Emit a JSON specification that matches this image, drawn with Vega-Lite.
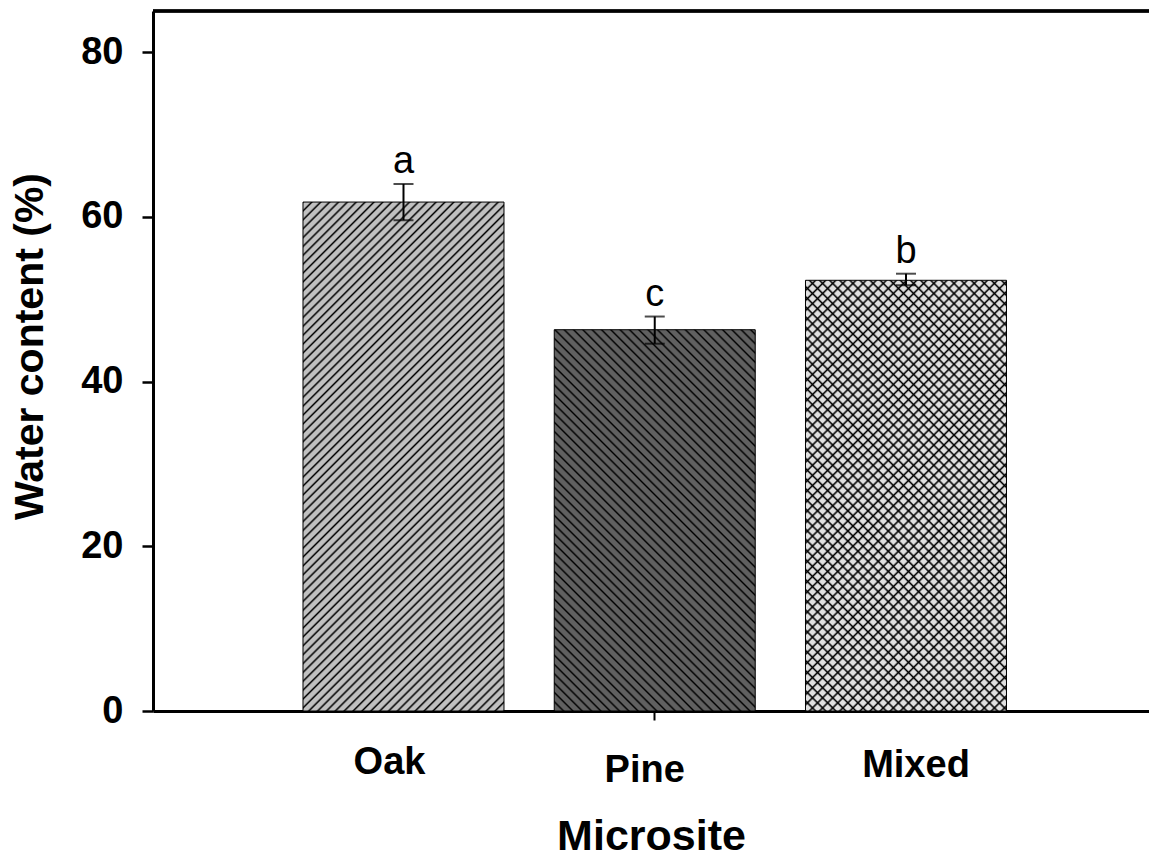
{
"$schema": "https://vega.github.io/schema/vega-lite/v6.json",
"width": 996,
"height": 700,
"autosize": "none",
"padding": {"left": 153, "top": 11, "right": 0, "bottom": 147},
"background": "white",
"config": {"view": {"stroke": null}, "font": "Liberation Sans", "axis": {"grid": false, "domainColor": "black", "tickColor": "black", "labelColor": "black", "titleColor": "black"}},
"params": [
{"name": "hatchA", "value": [
{"offset":0,"color":"#000"},{"offset":0.003,"color":"transparent"},{"offset":0.0095,"color":"transparent"},
{"offset":0.0125,"color":"#000"},{"offset":0.0155,"color":"transparent"},{"offset":0.022,"color":"transparent"},
{"offset":0.025,"color":"#000"},{"offset":0.028,"color":"transparent"},{"offset":0.0345,"color":"transparent"},
{"offset":0.0375,"color":"#000"},{"offset":0.0405,"color":"transparent"},{"offset":0.047,"color":"transparent"},
{"offset":0.05,"color":"#000"},{"offset":0.053,"color":"transparent"},{"offset":0.0595,"color":"transparent"},
{"offset":0.0625,"color":"#000"},{"offset":0.0655,"color":"transparent"},{"offset":0.072,"color":"transparent"},
{"offset":0.075,"color":"#000"},{"offset":0.078,"color":"transparent"},{"offset":0.0845,"color":"transparent"},
{"offset":0.0875,"color":"#000"},{"offset":0.0905,"color":"transparent"},{"offset":0.097,"color":"transparent"},
{"offset":0.1,"color":"#000"},{"offset":0.103,"color":"transparent"},{"offset":0.1095,"color":"transparent"},
{"offset":0.1125,"color":"#000"},{"offset":0.1155,"color":"transparent"},{"offset":0.122,"color":"transparent"},
{"offset":0.125,"color":"#000"},{"offset":0.128,"color":"transparent"},{"offset":0.1345,"color":"transparent"},
{"offset":0.1375,"color":"#000"},{"offset":0.1405,"color":"transparent"},{"offset":0.147,"color":"transparent"},
{"offset":0.15,"color":"#000"},{"offset":0.153,"color":"transparent"},{"offset":0.1595,"color":"transparent"},
{"offset":0.1625,"color":"#000"},{"offset":0.1655,"color":"transparent"},{"offset":0.172,"color":"transparent"},
{"offset":0.175,"color":"#000"},{"offset":0.178,"color":"transparent"},{"offset":0.1845,"color":"transparent"},
{"offset":0.1875,"color":"#000"},{"offset":0.1905,"color":"transparent"},{"offset":0.197,"color":"transparent"},
{"offset":0.2,"color":"#000"},{"offset":0.203,"color":"transparent"},{"offset":0.2095,"color":"transparent"},
{"offset":0.2125,"color":"#000"},{"offset":0.2155,"color":"transparent"},{"offset":0.222,"color":"transparent"},
{"offset":0.225,"color":"#000"},{"offset":0.228,"color":"transparent"},{"offset":0.2345,"color":"transparent"},
{"offset":0.2375,"color":"#000"},{"offset":0.2405,"color":"transparent"},{"offset":0.247,"color":"transparent"},
{"offset":0.25,"color":"#000"},{"offset":0.253,"color":"transparent"},{"offset":0.2595,"color":"transparent"},
{"offset":0.2625,"color":"#000"},{"offset":0.2655,"color":"transparent"},{"offset":0.272,"color":"transparent"},
{"offset":0.275,"color":"#000"},{"offset":0.278,"color":"transparent"},{"offset":0.2845,"color":"transparent"},
{"offset":0.2875,"color":"#000"},{"offset":0.2905,"color":"transparent"},{"offset":0.297,"color":"transparent"},
{"offset":0.3,"color":"#000"},{"offset":0.303,"color":"transparent"},{"offset":0.3095,"color":"transparent"},
{"offset":0.3125,"color":"#000"},{"offset":0.3155,"color":"transparent"},{"offset":0.322,"color":"transparent"},
{"offset":0.325,"color":"#000"},{"offset":0.328,"color":"transparent"},{"offset":0.3345,"color":"transparent"},
{"offset":0.3375,"color":"#000"},{"offset":0.3405,"color":"transparent"},{"offset":0.347,"color":"transparent"},
{"offset":0.35,"color":"#000"},{"offset":0.353,"color":"transparent"},{"offset":0.3595,"color":"transparent"},
{"offset":0.3625,"color":"#000"},{"offset":0.3655,"color":"transparent"},{"offset":0.372,"color":"transparent"},
{"offset":0.375,"color":"#000"},{"offset":0.378,"color":"transparent"},{"offset":0.3845,"color":"transparent"},
{"offset":0.3875,"color":"#000"},{"offset":0.3905,"color":"transparent"},{"offset":0.397,"color":"transparent"},
{"offset":0.4,"color":"#000"},{"offset":0.403,"color":"transparent"},{"offset":0.4095,"color":"transparent"},
{"offset":0.4125,"color":"#000"},{"offset":0.4155,"color":"transparent"},{"offset":0.422,"color":"transparent"},
{"offset":0.425,"color":"#000"},{"offset":0.428,"color":"transparent"},{"offset":0.4345,"color":"transparent"},
{"offset":0.4375,"color":"#000"},{"offset":0.4405,"color":"transparent"},{"offset":0.447,"color":"transparent"},
{"offset":0.45,"color":"#000"},{"offset":0.453,"color":"transparent"},{"offset":0.4595,"color":"transparent"},
{"offset":0.4625,"color":"#000"},{"offset":0.4655,"color":"transparent"},{"offset":0.472,"color":"transparent"},
{"offset":0.475,"color":"#000"},{"offset":0.478,"color":"transparent"},{"offset":0.4845,"color":"transparent"},
{"offset":0.4875,"color":"#000"},{"offset":0.4905,"color":"transparent"},{"offset":0.497,"color":"transparent"},
{"offset":0.5,"color":"#000"},{"offset":0.503,"color":"transparent"},{"offset":0.5095,"color":"transparent"},
{"offset":0.5125,"color":"#000"},{"offset":0.5155,"color":"transparent"},{"offset":0.522,"color":"transparent"},
{"offset":0.525,"color":"#000"},{"offset":0.528,"color":"transparent"},{"offset":0.5345,"color":"transparent"},
{"offset":0.5375,"color":"#000"},{"offset":0.5405,"color":"transparent"},{"offset":0.547,"color":"transparent"},
{"offset":0.55,"color":"#000"},{"offset":0.553,"color":"transparent"},{"offset":0.5595,"color":"transparent"},
{"offset":0.5625,"color":"#000"},{"offset":0.5655,"color":"transparent"},{"offset":0.572,"color":"transparent"},
{"offset":0.575,"color":"#000"},{"offset":0.578,"color":"transparent"},{"offset":0.5845,"color":"transparent"},
{"offset":0.5875,"color":"#000"},{"offset":0.5905,"color":"transparent"},{"offset":0.597,"color":"transparent"},
{"offset":0.6,"color":"#000"},{"offset":0.603,"color":"transparent"},{"offset":0.6095,"color":"transparent"},
{"offset":0.6125,"color":"#000"},{"offset":0.6155,"color":"transparent"},{"offset":0.622,"color":"transparent"},
{"offset":0.625,"color":"#000"},{"offset":0.628,"color":"transparent"},{"offset":0.6345,"color":"transparent"},
{"offset":0.6375,"color":"#000"},{"offset":0.6405,"color":"transparent"},{"offset":0.647,"color":"transparent"},
{"offset":0.65,"color":"#000"},{"offset":0.653,"color":"transparent"},{"offset":0.6595,"color":"transparent"},
{"offset":0.6625,"color":"#000"},{"offset":0.6655,"color":"transparent"},{"offset":0.672,"color":"transparent"},
{"offset":0.675,"color":"#000"},{"offset":0.678,"color":"transparent"},{"offset":0.6845,"color":"transparent"},
{"offset":0.6875,"color":"#000"},{"offset":0.6905,"color":"transparent"},{"offset":0.697,"color":"transparent"},
{"offset":0.7,"color":"#000"},{"offset":0.703,"color":"transparent"},{"offset":0.7095,"color":"transparent"},
{"offset":0.7125,"color":"#000"},{"offset":0.7155,"color":"transparent"},{"offset":0.722,"color":"transparent"},
{"offset":0.725,"color":"#000"},{"offset":0.728,"color":"transparent"},{"offset":0.7345,"color":"transparent"},
{"offset":0.7375,"color":"#000"},{"offset":0.7405,"color":"transparent"},{"offset":0.747,"color":"transparent"},
{"offset":0.75,"color":"#000"},{"offset":0.753,"color":"transparent"},{"offset":0.7595,"color":"transparent"},
{"offset":0.7625,"color":"#000"},{"offset":0.7655,"color":"transparent"},{"offset":0.772,"color":"transparent"},
{"offset":0.775,"color":"#000"},{"offset":0.778,"color":"transparent"},{"offset":0.7845,"color":"transparent"},
{"offset":0.7875,"color":"#000"},{"offset":0.7905,"color":"transparent"},{"offset":0.797,"color":"transparent"},
{"offset":0.8,"color":"#000"},{"offset":0.803,"color":"transparent"},{"offset":0.8095,"color":"transparent"},
{"offset":0.8125,"color":"#000"},{"offset":0.8155,"color":"transparent"},{"offset":0.822,"color":"transparent"},
{"offset":0.825,"color":"#000"},{"offset":0.828,"color":"transparent"},{"offset":0.8345,"color":"transparent"},
{"offset":0.8375,"color":"#000"},{"offset":0.8405,"color":"transparent"},{"offset":0.847,"color":"transparent"},
{"offset":0.85,"color":"#000"},{"offset":0.853,"color":"transparent"},{"offset":0.8595,"color":"transparent"},
{"offset":0.8625,"color":"#000"},{"offset":0.8655,"color":"transparent"},{"offset":0.872,"color":"transparent"},
{"offset":0.875,"color":"#000"},{"offset":0.878,"color":"transparent"},{"offset":0.8845,"color":"transparent"},
{"offset":0.8875,"color":"#000"},{"offset":0.8905,"color":"transparent"},{"offset":0.897,"color":"transparent"},
{"offset":0.9,"color":"#000"},{"offset":0.903,"color":"transparent"},{"offset":0.9095,"color":"transparent"},
{"offset":0.9125,"color":"#000"},{"offset":0.9155,"color":"transparent"},{"offset":0.922,"color":"transparent"},
{"offset":0.925,"color":"#000"},{"offset":0.928,"color":"transparent"},{"offset":0.9345,"color":"transparent"},
{"offset":0.9375,"color":"#000"},{"offset":0.9405,"color":"transparent"},{"offset":0.947,"color":"transparent"},
{"offset":0.95,"color":"#000"},{"offset":0.953,"color":"transparent"},{"offset":0.9595,"color":"transparent"},
{"offset":0.9625,"color":"#000"},{"offset":0.9655,"color":"transparent"},{"offset":0.972,"color":"transparent"},
{"offset":0.975,"color":"#000"},{"offset":0.978,"color":"transparent"},{"offset":0.9845,"color":"transparent"},
{"offset":0.9875,"color":"#000"},{"offset":0.9905,"color":"transparent"},{"offset":0.997,"color":"transparent"},
{"offset":1,"color":"#000"}
]},
{"name": "hatchB", "value": [
{"offset":0,"color":"#000"},{"offset":0.0035,"color":"transparent"},{"offset":0.0125,"color":"transparent"},
{"offset":0.016,"color":"#000"},{"offset":0.0195,"color":"transparent"},{"offset":0.0285,"color":"transparent"},
{"offset":0.032,"color":"#000"},{"offset":0.0355,"color":"transparent"},{"offset":0.0445,"color":"transparent"},
{"offset":0.048,"color":"#000"},{"offset":0.0515,"color":"transparent"},{"offset":0.0605,"color":"transparent"},
{"offset":0.064,"color":"#000"},{"offset":0.0675,"color":"transparent"},{"offset":0.0765,"color":"transparent"},
{"offset":0.08,"color":"#000"},{"offset":0.0835,"color":"transparent"},{"offset":0.0925,"color":"transparent"},
{"offset":0.096,"color":"#000"},{"offset":0.0995,"color":"transparent"},{"offset":0.1085,"color":"transparent"},
{"offset":0.112,"color":"#000"},{"offset":0.1155,"color":"transparent"},{"offset":0.1245,"color":"transparent"},
{"offset":0.128,"color":"#000"},{"offset":0.1315,"color":"transparent"},{"offset":0.1405,"color":"transparent"},
{"offset":0.144,"color":"#000"},{"offset":0.1475,"color":"transparent"},{"offset":0.1565,"color":"transparent"},
{"offset":0.16,"color":"#000"},{"offset":0.1635,"color":"transparent"},{"offset":0.1725,"color":"transparent"},
{"offset":0.176,"color":"#000"},{"offset":0.1795,"color":"transparent"},{"offset":0.1885,"color":"transparent"},
{"offset":0.192,"color":"#000"},{"offset":0.1955,"color":"transparent"},{"offset":0.2045,"color":"transparent"},
{"offset":0.208,"color":"#000"},{"offset":0.2115,"color":"transparent"},{"offset":0.2205,"color":"transparent"},
{"offset":0.224,"color":"#000"},{"offset":0.2275,"color":"transparent"},{"offset":0.2365,"color":"transparent"},
{"offset":0.24,"color":"#000"},{"offset":0.2435,"color":"transparent"},{"offset":0.2525,"color":"transparent"},
{"offset":0.256,"color":"#000"},{"offset":0.2595,"color":"transparent"},{"offset":0.2685,"color":"transparent"},
{"offset":0.272,"color":"#000"},{"offset":0.2755,"color":"transparent"},{"offset":0.2845,"color":"transparent"},
{"offset":0.288,"color":"#000"},{"offset":0.2915,"color":"transparent"},{"offset":0.3005,"color":"transparent"},
{"offset":0.304,"color":"#000"},{"offset":0.3075,"color":"transparent"},{"offset":0.3165,"color":"transparent"},
{"offset":0.32,"color":"#000"},{"offset":0.3235,"color":"transparent"},{"offset":0.3325,"color":"transparent"},
{"offset":0.336,"color":"#000"},{"offset":0.3395,"color":"transparent"},{"offset":0.3485,"color":"transparent"},
{"offset":0.352,"color":"#000"},{"offset":0.3555,"color":"transparent"},{"offset":0.3645,"color":"transparent"},
{"offset":0.368,"color":"#000"},{"offset":0.3715,"color":"transparent"},{"offset":0.3805,"color":"transparent"},
{"offset":0.384,"color":"#000"},{"offset":0.3875,"color":"transparent"},{"offset":0.3965,"color":"transparent"},
{"offset":0.4,"color":"#000"},{"offset":0.4035,"color":"transparent"},{"offset":0.4125,"color":"transparent"},
{"offset":0.416,"color":"#000"},{"offset":0.4195,"color":"transparent"},{"offset":0.4285,"color":"transparent"},
{"offset":0.432,"color":"#000"},{"offset":0.4355,"color":"transparent"},{"offset":0.4445,"color":"transparent"},
{"offset":0.448,"color":"#000"},{"offset":0.4515,"color":"transparent"},{"offset":0.4605,"color":"transparent"},
{"offset":0.464,"color":"#000"},{"offset":0.4675,"color":"transparent"},{"offset":0.4765,"color":"transparent"},
{"offset":0.48,"color":"#000"},{"offset":0.4835,"color":"transparent"},{"offset":0.4925,"color":"transparent"},
{"offset":0.496,"color":"#000"},{"offset":0.4995,"color":"transparent"},{"offset":0.5085,"color":"transparent"},
{"offset":0.512,"color":"#000"},{"offset":0.5155,"color":"transparent"},{"offset":0.5245,"color":"transparent"},
{"offset":0.528,"color":"#000"},{"offset":0.5315,"color":"transparent"},{"offset":0.5405,"color":"transparent"},
{"offset":0.544,"color":"#000"},{"offset":0.5475,"color":"transparent"},{"offset":0.5565,"color":"transparent"},
{"offset":0.56,"color":"#000"},{"offset":0.5635,"color":"transparent"},{"offset":0.5725,"color":"transparent"},
{"offset":0.576,"color":"#000"},{"offset":0.5795,"color":"transparent"},{"offset":0.5885,"color":"transparent"},
{"offset":0.592,"color":"#000"},{"offset":0.5955,"color":"transparent"},{"offset":0.6045,"color":"transparent"},
{"offset":0.608,"color":"#000"},{"offset":0.6115,"color":"transparent"},{"offset":0.6205,"color":"transparent"},
{"offset":0.624,"color":"#000"},{"offset":0.6275,"color":"transparent"},{"offset":0.6365,"color":"transparent"},
{"offset":0.64,"color":"#000"},{"offset":0.6435,"color":"transparent"},{"offset":0.6525,"color":"transparent"},
{"offset":0.656,"color":"#000"},{"offset":0.6595,"color":"transparent"},{"offset":0.6685,"color":"transparent"},
{"offset":0.672,"color":"#000"},{"offset":0.6755,"color":"transparent"},{"offset":0.6845,"color":"transparent"},
{"offset":0.688,"color":"#000"},{"offset":0.6915,"color":"transparent"},{"offset":0.7005,"color":"transparent"},
{"offset":0.704,"color":"#000"},{"offset":0.7075,"color":"transparent"},{"offset":0.7165,"color":"transparent"},
{"offset":0.72,"color":"#000"},{"offset":0.7235,"color":"transparent"},{"offset":0.7325,"color":"transparent"},
{"offset":0.736,"color":"#000"},{"offset":0.7395,"color":"transparent"},{"offset":0.7485,"color":"transparent"},
{"offset":0.752,"color":"#000"},{"offset":0.7555,"color":"transparent"},{"offset":0.7645,"color":"transparent"},
{"offset":0.768,"color":"#000"},{"offset":0.7715,"color":"transparent"},{"offset":0.7805,"color":"transparent"},
{"offset":0.784,"color":"#000"},{"offset":0.7875,"color":"transparent"},{"offset":0.7965,"color":"transparent"},
{"offset":0.8,"color":"#000"},{"offset":0.8035,"color":"transparent"},{"offset":0.8125,"color":"transparent"},
{"offset":0.816,"color":"#000"},{"offset":0.8195,"color":"transparent"},{"offset":0.8285,"color":"transparent"},
{"offset":0.832,"color":"#000"},{"offset":0.8355,"color":"transparent"},{"offset":0.8445,"color":"transparent"},
{"offset":0.848,"color":"#000"},{"offset":0.8515,"color":"transparent"},{"offset":0.8605,"color":"transparent"},
{"offset":0.864,"color":"#000"},{"offset":0.8675,"color":"transparent"},{"offset":0.8765,"color":"transparent"},
{"offset":0.88,"color":"#000"},{"offset":0.8835,"color":"transparent"},{"offset":0.8925,"color":"transparent"},
{"offset":0.896,"color":"#000"},{"offset":0.8995,"color":"transparent"},{"offset":0.9085,"color":"transparent"},
{"offset":0.912,"color":"#000"},{"offset":0.9155,"color":"transparent"},{"offset":0.9245,"color":"transparent"},
{"offset":0.928,"color":"#000"},{"offset":0.9315,"color":"transparent"},{"offset":0.9405,"color":"transparent"},
{"offset":0.944,"color":"#000"},{"offset":0.9475,"color":"transparent"},{"offset":0.9565,"color":"transparent"},
{"offset":0.96,"color":"#000"},{"offset":0.9635,"color":"transparent"},{"offset":0.9725,"color":"transparent"},
{"offset":0.976,"color":"#000"},{"offset":0.9795,"color":"transparent"},{"offset":0.9885,"color":"transparent"},
{"offset":0.992,"color":"#000"},{"offset":0.9955,"color":"transparent"}
]}
],
"data": {"values": [
{"site": "Oak", "mean": 61.8, "lower": 59.6, "upper": 64.0, "letter": "a"},
{"site": "Pine", "mean": 46.3, "lower": 44.6, "upper": 47.9, "letter": "c"},
{"site": "Mixed", "mean": 52.3, "lower": 51.7, "upper": 53.1, "letter": "b"}
]},
"layer": [
{
"encoding": {
"x": {"field": "site", "type": "nominal", "sort": ["Oak", "Pine", "Mixed"],
"scale": {"paddingInner": 0.2, "paddingOuter": 0.5821, "align": 0.5128},
"axis": {"title": "Microsite", "titleFontSize": 43, "titleFontWeight": "bold", "titlePadding": 26,
"labelFontSize": 38, "labelFontWeight": "bold", "labelAngle": 0, "labelBaseline": "alphabetic", "labelOverlap": false, "labelFlush": false,
"labelOffset": {"condition": [{"test": "datum.value === 'Oak'", "value": -14}, {"test": "datum.value === 'Pine'", "value": -10}], "value": 10},
"labelPadding": {"condition": [{"test": "datum.value === 'Oak'", "value": 53}, {"test": "datum.value === 'Pine'", "value": 61}], "value": 56},
"tickSize": 9, "tickWidth": 2, "tickOpacity": {"condition": {"test": "datum.value === 'Pine'", "value": 1}, "value": 0},
"domainWidth": 3}}
},
"layer": [
{"mark": {"type": "bar", "stroke": "black", "strokeWidth": 1},
"encoding": {
"y": {"field": "mean", "type": "quantitative", "scale": {"domain": [0, 85], "nice": false},
"axis": {"title": "Water content (%)", "titleFontSize": 41, "titleFontWeight": "bold", "titlePadding": 29, "titleY": 335,
"values": [0, 20, 40, 60, 80], "labelFontSize": 38, "labelFontWeight": "bold", "labelPadding": 19,
"tickSize": 11, "tickWidth": 2.5, "domainWidth": 3}},
"fill": {"field": "site", "type": "nominal", "scale": {"domain": ["Oak", "Pine", "Mixed"], "range": ["#c0c0c0", "#606060", "#e0e0e0"]}, "legend": null}
}},
{"transform": [{"filter": "datum.site === 'Oak'"}],
"mark": {"type": "bar", "stroke": null, "fill": {"expr": "{gradient: 'linear', x1: 0, y1: 0, x2: 0.47658, y2: 1.2067, stops: hatchA}"}},
"encoding": {"y": {"field": "mean", "type": "quantitative"}}},
{"transform": [{"filter": "datum.site === 'Pine'"}],
"mark": {"type": "bar", "stroke": null, "fill": {"expr": "{gradient: 'linear', x1: 0, y1: 1, x2: 0.62998, y2: -0.19504, stops: hatchB}"}},
"encoding": {"y": {"field": "mean", "type": "quantitative"}}},
{"transform": [{"filter": "datum.site === 'Mixed'"}],
"mark": {"type": "bar", "stroke": null, "fill": {"expr": "{gradient: 'linear', x1: 0, y1: 0, x2: 0.56205, y2: 1.20439, stops: hatchB}"}},
"encoding": {"y": {"field": "mean", "type": "quantitative"}}},
{"transform": [{"filter": "datum.site === 'Mixed'"}],
"mark": {"type": "bar", "stroke": null, "fill": {"expr": "{gradient: 'linear', x1: 0, y1: 1, x2: 0.56205, y2: -0.20439, stops: hatchB}"}},
"encoding": {"y": {"field": "mean", "type": "quantitative"}}},
{"mark": {"type": "rule", "color": "black", "strokeWidth": 2},
"encoding": {"y": {"field": "lower", "type": "quantitative"}, "y2": {"field": "upper"}}},
{"mark": {"type": "tick", "color": "black", "size": 20, "thickness": 2, "orient": "horizontal"},
"encoding": {"y": {"field": "upper", "type": "quantitative"}}},
{"mark": {"type": "tick", "color": "black", "size": 20, "thickness": 2, "orient": "horizontal"},
"encoding": {"y": {"field": "lower", "type": "quantitative"}}},
{"mark": {"type": "text", "fontSize": 38, "baseline": "alphabetic", "dy": -10.5, "color": "black", "font": "Liberation Sans"},
"encoding": {"y": {"field": "upper", "type": "quantitative"}, "text": {"field": "letter"}}}
]
},
{"mark": {"type": "rule", "color": "black", "strokeWidth": 3},
"encoding": {"y": {"datum": 85}}}
]
}
